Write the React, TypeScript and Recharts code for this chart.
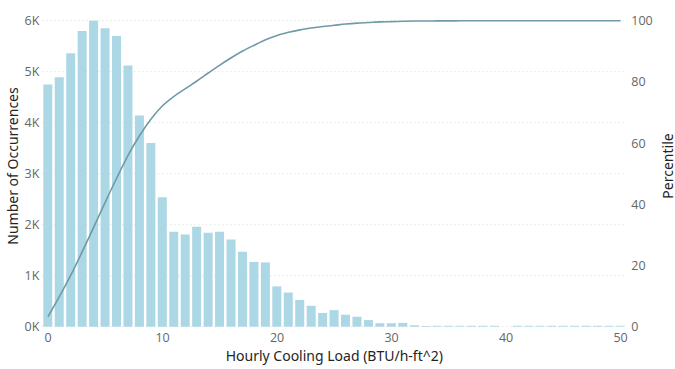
import React from "react";
import { ComposedChart, Bar, Line, XAxis, YAxis, CartesianGrid } from "recharts";

const loads = Array.from({ length: 51 }, (_, i) => i);
const occurrences = [
  4750, 4890, 5360, 5800, 6000, 5850, 5700, 5120, 4140, 3600,
  2540, 1860, 1810, 1960, 1840, 1860, 1710, 1470, 1270, 1260,
  790, 670, 525, 410, 270, 325, 235, 195, 130, 68,
  68, 75, 28, 15, 18, 18, 18, 18, 18, 18,
  0, 18, 18, 18, 18, 18, 18, 18, 18, 18, 18,
];
const percentile = [
  3.3, 9.9, 16.9, 24.6, 32.6, 40.7, 48.6, 56.1, 62.5, 67.9,
  72.2, 75.3, 77.8, 80.3, 82.9, 85.5, 87.9, 90.1, 92.0, 93.8,
  95.2, 96.2, 97.0, 97.6, 98.1, 98.5, 98.9, 99.2, 99.4, 99.6,
  99.7, 99.8, 99.9, 99.9, 99.95, 99.95, 99.96, 99.97, 99.97, 99.98,
  99.98, 99.98, 99.99, 99.99, 99.99, 100, 100, 100, 100, 100, 100,
];
const leftTicks = [0, 1000, 2000, 3000, 4000, 5000, 6000];
const rightTicks = [0, 20, 40, 60, 80, 100];

const data = loads.map((x, i) => ({ x, count: occurrences[i], pct: percentile[i] }));

const tickStyle = { fill: "#666", fontSize: 12.5, fontFamily: "'Open Sans', sans-serif" };
const titleFont = "'Noto Sans', sans-serif";

export default function App() {
  return (
    <div style={{ position: "absolute", left: 0, top: 0, background: "#fff" }}>
      <ComposedChart
        width={675}
        height={369}
        data={data}
        margin={{ top: 20.7, right: 0, bottom: 0, left: 0 }}
        barCategoryGap={1}
      >
        <CartesianGrid
          yAxisId="left"
          vertical={false}
          stroke="#d9d9d9"
          strokeDasharray="1 3"
        />
        <XAxis
          dataKey="x"
          type="category"
          interval={9}
          height={42.3}
          tickSize={0}
          tickMargin={6}
          axisLine={false}
          tick={tickStyle}
          label={(props: any) => {
            const vb = props.viewBox;
            return (
              <text
                x={vb.x + vb.width / 2}
                y={361}
                textAnchor="middle"
                fill="#252423"
                fontSize={14}
                fontFamily={titleFont}
              >
                Hourly Cooling Load (BTU/h-ft^2)
              </text>
            );
          }}
        />
        <YAxis
          yAxisId="left"
          orientation="left"
          width={42.3}
          domain={[0, 6000]}
          ticks={leftTicks}
          tickFormatter={(v: number) => `${v / 1000}K`}
          tickSize={0}
          tickMargin={3}
          axisLine={false}
          tick={tickStyle}
          label={(props: any) => {
            const cy = 166;
            const cx = 18;
            return (
              <text
                x={cx}
                y={cy}
                transform={`rotate(-90, ${cx}, ${cy})`}
                textAnchor="middle"
                fill="#252423"
                fontSize={14}
                fontFamily={titleFont}
              >
                Number of Occurrences
              </text>
            );
          }}
        />
        <YAxis
          yAxisId="right"
          orientation="right"
          width={48.7}
          domain={[0, 100]}
          ticks={rightTicks}
          tickSize={0}
          tickMargin={5}
          axisLine={false}
          tick={tickStyle}
          label={(props: any) => {
            const cy = 166;
            const cx = 667;
            return (
              <text
                x={cx}
                y={cy}
                transform={`rotate(-90, ${cx}, ${cy})`}
                textAnchor="middle"
                dominantBaseline="central"
                fill="#252423"
                fontSize={14}
                fontFamily={titleFont}
              >
                Percentile
              </text>
            );
          }}
        />
        <Bar yAxisId="left" dataKey="count" fill="#acd7e4" isAnimationActive={false} />
        <Line
          yAxisId="right"
          dataKey="pct"
          type="monotone"
          stroke="#6f9aa8"
          strokeWidth={1.6}
          dot={false}
          isAnimationActive={false}
        />
      </ComposedChart>
    </div>
  );
}
